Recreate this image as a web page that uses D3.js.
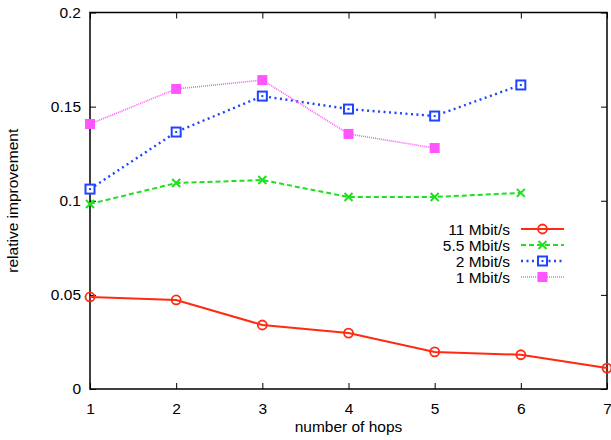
<!DOCTYPE html>
<html>
<head>
<meta charset="utf-8">
<script src="https://cdn.jsdelivr.net/npm/d3@7"></script>
<style>
  body { margin: 0; background: #fff; }
  text { font-family: "Liberation Sans", Arial, Helvetica, sans-serif; }
</style>
</head>
<body>
<div id="chart"></div>
<script>
// hops on the x axis
var hops = [1, 2, 3, 4, 5, 6, 7];
var xTicks = [1, 2, 3, 4, 5, 6, 7];
var yTicks = [0, 0.05, 0.1, 0.15, 0.2];

// relative improvement
var rate11 = [0.0489, 0.0473, 0.0340, 0.0297, 0.0197, 0.0182, 0.0111];
var rate55 = [0.0983, 0.1094, 0.1110, 0.1020, 0.1020, 0.1042];
var rate2  = [0.1062, 0.1365, 0.1556, 0.1487, 0.1450, 0.1615];
var rate1  = [0.1408, 0.1594, 0.1641, 0.1355, 0.1280];

var seriesNames = ["11 Mbit/s", "5.5 Mbit/s", "2 Mbit/s", "1 Mbit/s"];

var series = [
  {name: seriesNames[0], values: rate11, color: "#ff2a12", dash: null, width: 2, marker: "circle"},
  {name: seriesNames[1], values: rate55, color: "#1ee01e", dash: "5,3", width: 2, marker: "cross"},
  {name: seriesNames[2], values: rate2, color: "#1f44ff", dash: "2,3.5", width: 2.4, marker: "square"},
  {name: seriesNames[3], values: rate1, color: "#ff55ff", dash: "1,1", width: 1.6, marker: "filled"}
];

var W = 611, H = 440;
var pLeft = 90, pRight = 607, pTop = 12.5, pBottom = 389;
var fontSize = 15.5;

var svg = d3.select("#chart").append("svg")
  .attr("width", W).attr("height", H);

var x = d3.scaleLinear().domain([1, 7]).range([pLeft, pRight]);
var y = d3.scaleLinear().domain([0, 0.2]).range([pBottom, pTop]);

var tickLen = 6;
var fmt = function(d){ return d === 0 ? "0" : String(d); };

// axes with inward ticks
var gBottom = svg.append("g").attr("transform", "translate(0," + pBottom + ")")
  .call(d3.axisBottom(x).tickValues(xTicks).tickSizeInner(-tickLen).tickSizeOuter(0).tickPadding(14).tickFormat(d3.format("d")));
var gTop = svg.append("g").attr("transform", "translate(0," + pTop + ")")
  .call(d3.axisTop(x).tickValues(xTicks).tickSizeInner(-tickLen).tickSizeOuter(0).tickFormat(""));
var gLeft = svg.append("g").attr("transform", "translate(" + pLeft + ",0)")
  .call(d3.axisLeft(y).tickValues(yTicks).tickSizeInner(-tickLen).tickSizeOuter(0).tickPadding(9).tickFormat(fmt));
var gRight = svg.append("g").attr("transform", "translate(" + pRight + ",0)")
  .call(d3.axisRight(y).tickValues(yTicks).tickSizeInner(-tickLen).tickSizeOuter(0).tickFormat(""));

[gBottom, gTop, gLeft, gRight].forEach(function(g){
  g.select(".domain").remove();
  g.selectAll(".tick line").attr("stroke", "#000").attr("stroke-width", 1);
  g.selectAll(".tick text").attr("font-size", fontSize).attr("fill", "#000")
    .style("font-family", "'Liberation Sans', Arial, sans-serif");
});

// frame
svg.append("rect")
  .attr("x", pLeft).attr("y", pTop)
  .attr("width", pRight - pLeft).attr("height", pBottom - pTop)
  .attr("fill", "none").attr("stroke", "#000").attr("stroke-width", 1.5);

// axis labels
svg.append("text")
  .attr("x", (pLeft + pRight) / 2).attr("y", 432)
  .attr("text-anchor", "middle").attr("font-size", fontSize)
  .text("number of hops");
svg.append("text")
  .attr("transform", "translate(18," + ((pTop + pBottom) / 2) + ") rotate(-90)")
  .attr("text-anchor", "middle").attr("font-size", fontSize)
  .text("relative improvement");

function drawMarker(g, type, color, cx, cy) {
  if (type === "circle") {
    g.append("circle").attr("cx", cx).attr("cy", cy).attr("r", 4.5)
      .attr("fill", "none").attr("stroke", color).attr("stroke-width", 1.8);
  } else if (type === "cross") {
    var s = 4;
    g.append("path")
      .attr("d", "M" + (cx - s) + "," + (cy - s) + "L" + (cx + s) + "," + (cy + s) +
                 "M" + (cx - s) + "," + (cy + s) + "L" + (cx + s) + "," + (cy - s))
      .attr("stroke", color).attr("stroke-width", 2).attr("fill", "none");
  } else if (type === "square") {
    g.append("rect").attr("x", cx - 4.5).attr("y", cy - 4.5).attr("width", 9).attr("height", 9)
      .attr("fill", "#fff").attr("stroke", color).attr("stroke-width", 2);
    g.append("rect").attr("x", cx - 1).attr("y", cy - 1).attr("width", 2).attr("height", 2)
      .attr("fill", color);
  } else {
    g.append("rect").attr("x", cx - 5).attr("y", cy - 5).attr("width", 10).attr("height", 10)
      .attr("fill", color);
  }
}

var line = d3.line()
  .x(function(d, i){ return x(hops[i]); })
  .y(function(d){ return y(d); });

series.forEach(function(s){
  var g = svg.append("g");
  g.append("path")
    .attr("d", line(s.values))
    .attr("fill", "none")
    .attr("stroke", s.color)
    .attr("stroke-width", s.width)
    .attr("stroke-dasharray", s.dash);
  s.values.forEach(function(v, i){
    drawMarker(g, s.marker, s.color, x(hops[i]), y(v));
  });
});

// legend
var legY = [229, 245, 261, 277];
series.forEach(function(s, i){
  var g = svg.append("g");
  g.append("text")
    .attr("x", 510).attr("y", legY[i] + 5.5)
    .attr("text-anchor", "end").attr("font-size", fontSize)
    .text(s.name);
  g.append("line")
    .attr("x1", 521).attr("x2", 564)
    .attr("y1", legY[i]).attr("y2", legY[i])
    .attr("stroke", s.color).attr("stroke-width", s.width)
    .attr("stroke-dasharray", s.dash);
  drawMarker(g, s.marker, s.color, 542.5, legY[i]);
});
</script>
</body>
</html>
